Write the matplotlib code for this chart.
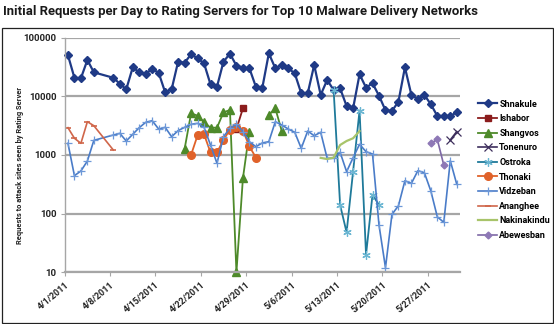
import numpy as np
import matplotlib
matplotlib.use("Agg")
import matplotlib.pyplot as plt
import datetime as dt

plt.rcParams['font.family'] = ['Roboto', 'DejaVu Sans']

START = dt.date(2011, 4, 1)
NDAYS = 61
tick_days = [0, 7, 14, 21, 28, 35, 42, 49, 56]
tick_labels = [f"{(START + dt.timedelta(d)).month}/{(START + dt.timedelta(d)).day}/2011" for d in tick_days]

nan = np.nan

shnakule_days = [0, 1, 2, 3, 4] + list(range(7, 61))
shnakule = [50000, 20600, 20200, 41400, 25500,
            20600, 16300, 13100, 31000, 25500, 24200, 29000, 25100, 11650, 13100,
            38700, 37200, 51700, 44200, 36300, 15900, 14500, 38700, 53000, 33100,
            30600, 29900, 14500, 14000, 53700, 29900, 34000, 29900, 24500, 11200,
            11200, 34000, 10500, 18900, 12750, 13600, 6800, 6200, 23600, 14000,
            16600, 10200, 5740, 5600, 8070, 31000, 10500, 8960, 10500, 7280,
            4600, 4600, 4600, 5310]

ishabor_days = [26, 27]
ishabor = [2750, 6200]

shangvos_days = list(range(18, 34))
shangvos = [1260, 5110, 4660, 3590, 2910, 2910, 5310, 5820, 10, 399, 2490,
            nan, nan, 4780, 6220, 2550]

tonenuro_days = [59, 60]
tonenuro = [1800, 2500]

ostroka_days = list(range(41, 49))
ostroka = [12700, 140, 48, 520, 5700, 20, 210, 140]

thonaki_days = list(range(19, 30))
thonaki = [1000, 2150, 2250, 1100, 1100, 1800, 2700, 3000, 2600, 1400, 900]

vidzeban_days = [0, 1, 2, 3, 4] + list(range(7, 61))
vidzeban = [1575, 443, 532, 787, 1770,
            2180, 2330, 1725, 2245, 2910, 3590, 3830, 2760, 2950, 2040,
            2590, 2950, 3320, 3450, 2950, 1475, 720, 2040, 2840, 3320,
            2490, 1680, 1380, 1600, 1680, 3680, 3230, 2760, 2430, 1295,
            2550, 2120, 2430, 875, 875, 1107, 518, 895, 1515, 1135,
            1035, 64, 12, 97, 136, 363, 328, 538, 498, 243,
            88, 71, 797, 316]

ananghee_days = [0, 1, 2, 3, 4, 7]
ananghee = [2910, 1920, 1575, 3680, 3140, 1212]

nakinakindu_days = list(range(39, 46))
nakinakindu = [890, 850, 900, 1475, 1725, 1920, 2550]

abewesban_days = [56, 57, 58]
abewesban = [1580, 1830, 670]

W, H = 554, 324
fig = plt.figure(figsize=(W / 100, H / 100), dpi=100)
fig.patch.set_facecolor('white')

# outer frame around the chart
fig.add_artist(plt.Rectangle((1.5 / W, 1.5 / H), (W - 3) / W, (H - 29.5) / H,
                             transform=fig.transFigure, fill=False,
                             edgecolor='#222222', lw=0.9))

fig.text(3 / W, 1 - 11 / H, "Initial Requests per Day to Rating Servers for Top 10 Malware Delivery Networks",
         fontsize=9.45, fontweight='bold', color='#1a1a1a', va='center', ha='left')

ax = fig.add_axes([64.7 / W, 1 - 272.3 / H, (460 - 64.7) / W, (272.3 - 37.5) / H])
ax.set_yscale('log')
ax.set_ylim(10, 100000)
ax.set_xlim(-0.5, NDAYS - 0.5)

grid_c = '#a6a6a6'
ax.yaxis.grid(True, color=grid_c, lw=1.6)
ax.set_axisbelow(True)
for s in ['top', 'right']:
    ax.spines[s].set_visible(False)
ax.spines['left'].set_color(grid_c)
ax.spines['bottom'].set_color(grid_c)
ax.spines['left'].set_linewidth(1.0)
ax.spines['bottom'].set_linewidth(1.6)

ax.set_yticks([10, 100, 1000, 10000, 100000])
ax.set_yticklabels(['10', '100', '1000', '10000', '100000'])
ax.yaxis.set_minor_locator(matplotlib.ticker.NullLocator())
ax.tick_params(axis='y', length=3, color=grid_c, labelsize=6.8, pad=3)
ax.set_xticks([d - 0.5 for d in tick_days])
ax.set_xticklabels(tick_labels, rotation=40, ha='right', va='top', rotation_mode='anchor')
ax.tick_params(axis='x', length=3, color=grid_c, labelsize=6.5, pad=3)
for lab in ax.get_xticklabels() + ax.get_yticklabels():
    lab.set_fontweight('bold')
    lab.set_color('#222222')

# vertical axis title
fig.text(20 / W, 1 - 165 / H, "Requests to attack sites seen by Rating Server",
         rotation=90, fontsize=5.4, fontweight='bold', color='#222222',
         ha='center', va='center')

asterisk = (6, 2, 0)
series = [
    ("Shnakule", shnakule_days, shnakule, dict(color='#1f3a86', lw=1.6, marker='D', ms=4.5, mfc='#1f3a86', mec='#1f3a86')),
    ("Ishabor", ishabor_days, ishabor, dict(color='#8b1c1c', lw=1.3, marker='s', ms=5, mfc='#8b1c1c', mec='#8b1c1c')),
    ("Shangvos", shangvos_days, shangvos, dict(color='#4e8a2a', lw=1.3, marker='^', ms=5.5, mfc='#4e8a2a', mec='#4e8a2a')),
    ("Tonenuro", tonenuro_days, tonenuro, dict(color='#3d2e5c', lw=1.2, marker='x', ms=5.5, mew=0.9)),
    ("Ostroka", ostroka_days, ostroka, dict(color='#1f7a9a', lw=1.3, marker=asterisk, ms=6, mec='#6bb6d2', mew=0.9)),
    ("Thonaki", thonaki_days, thonaki, dict(color='#e0622a', lw=1.3, marker='o', ms=5.5, mfc='#e0622a', mec='#e0622a')),
    ("Vidzeban", vidzeban_days, vidzeban, dict(color='#4a7cc8', lw=1.2, marker='+', ms=6, mec='#6d98d8', mew=0.9)),
    ("Ananghee", ananghee_days, ananghee, dict(color='#d0664a', lw=1.2, marker='_', ms=5, mew=1.2)),
    ("Nakinakindu", nakinakindu_days, nakinakindu, dict(color='#a8c46a', lw=1.6)),
    ("Abewesban", abewesban_days, abewesban, dict(color='#7e68a6', lw=1.2, marker='D', ms=3.5, mfc='#8e78b6', mec='#8e78b6')),
]

handles = []
for name, days, vals, st in series:
    ln, = ax.plot(days, vals, label=name, clip_on=False, **st)
    handles.append(ln)

fig.legend(handles=handles, loc='upper left', bbox_to_anchor=(474 / W, 1 - 96 / H),
           frameon=False, handlelength=2.2, handletextpad=0.2,
           labelspacing=0.62, borderaxespad=0, prop={'weight': 'bold', 'size': 6.5})

fig.savefig('out.png', dpi=100, facecolor='white')
